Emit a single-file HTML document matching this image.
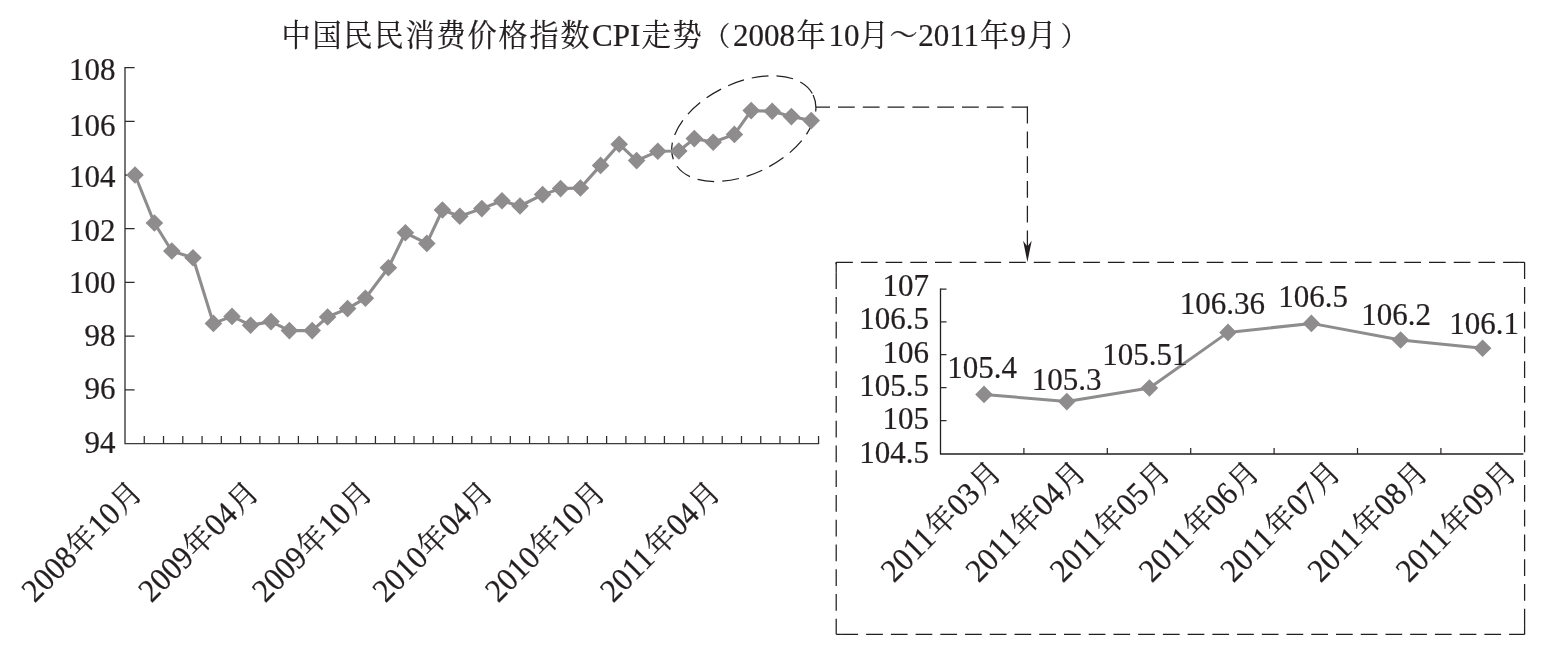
<!DOCTYPE html>
<html lang="zh"><head><meta charset="utf-8"><title>CPI</title>
<style>
html,body{margin:0;padding:0;background:#fff;}
body{width:1550px;height:663px;overflow:hidden;font-family:"Liberation Serif","Noto Serif CJK SC",serif;}
svg{display:block;will-change:transform;}
text{font-family:"Liberation Serif","Noto Serif CJK SC",serif;fill:#231f20;stroke:#231f20;stroke-width:0.22px;}
</style></head><body>
<svg width="1550" height="663" viewBox="0 0 1550 663" role="img" aria-label="中国民民消费价格指数CPI走势（2008年10月～2011年9月）">
<rect width="1550" height="663" fill="#fff"/>
<g id="title" aria-label="中国民民消费价格指数CPI走势（2008年10月～2011年9月）">
<text transform="translate(281.43 46.20) scale(1.0 1.048)" font-size="29.14">中</text>
<text transform="translate(312.43 46.20) scale(1.0 1.048)" font-size="29.14">国</text>
<text transform="translate(343.43 46.20) scale(1.0 1.048)" font-size="29.14">民</text>
<text transform="translate(374.43 46.20) scale(1.0 1.048)" font-size="29.14">民</text>
<text transform="translate(405.43 46.20) scale(1.0 1.048)" font-size="29.14">消</text>
<text transform="translate(436.43 46.20) scale(1.0 1.048)" font-size="29.14">费</text>
<text transform="translate(467.43 46.20) scale(1.0 1.048)" font-size="29.14">价</text>
<text transform="translate(498.43 46.20) scale(1.0 1.048)" font-size="29.14">格</text>
<text transform="translate(529.43 46.20) scale(1.0 1.048)" font-size="29.14">指</text>
<text transform="translate(560.43 46.20) scale(1.0 1.048)" font-size="29.14">数</text>
<text transform="translate(592.00 45.60) scale(1.0 1.05)" font-size="31">CPI</text>
<text transform="translate(641.43 46.20) scale(1.0 1.048)" font-size="29.14">走</text>
<text transform="translate(672.43 46.20) scale(1.0 1.048)" font-size="29.14">势</text>
<text transform="translate(703.55 44.55)" font-size="26.66">（</text>
<text transform="translate(733.00 45.60) scale(1.0 1.05)" font-size="31">2008</text>
<text transform="translate(796.43 46.20) scale(1.0 1.048)" font-size="29.14">年</text>
<text transform="translate(828.40 45.60) scale(1.0 1.05)" font-size="31">10</text>
<text transform="translate(859.43 46.20) scale(1.0 1.048)" font-size="29.14">月</text>
<text transform="translate(889.39 45.31) scale(1.0 1.044)" font-size="28.21">～</text>
<text transform="translate(918.20 45.60) scale(1.0 1.05)" font-size="31">2011</text>
<text transform="translate(979.93 46.20) scale(1.0 1.048)" font-size="29.14">年</text>
<text transform="translate(1010.50 45.60) scale(1.0 1.05)" font-size="31">9</text>
<text transform="translate(1027.33 46.20) scale(1.0 1.048)" font-size="29.14">月</text>
<text transform="translate(1060.79 44.55)" font-size="26.66">）</text>
</g>
<g id="main" stroke="#3e3b3c" stroke-width="1.4" fill="none">
<path d="M125.0 67.0V443.6H819.2"/>
<path d="M125.0 389.89h9.6M125.0 336.17h9.6M125.0 282.46h9.6M125.0 228.74h9.6M125.0 175.03h9.6M125.0 121.31h9.6M125.0 67.60h9.6M144.26 443.6v-7.6M163.53 443.6v-7.6M182.80 443.6v-7.6M202.06 443.6v-7.6M221.32 443.6v-7.6M240.59 443.6v-7.6M259.86 443.6v-7.6M279.12 443.6v-7.6M298.38 443.6v-7.6M317.65 443.6v-7.6M336.92 443.6v-7.6M356.18 443.6v-7.6M375.44 443.6v-7.6M394.71 443.6v-7.6M413.98 443.6v-7.6M433.24 443.6v-7.6M452.50 443.6v-7.6M471.77 443.6v-7.6M491.04 443.6v-7.6M510.30 443.6v-7.6M529.57 443.6v-7.6M548.83 443.6v-7.6M568.10 443.6v-7.6M587.36 443.6v-7.6M606.62 443.6v-7.6M625.89 443.6v-7.6M645.15 443.6v-7.6M664.42 443.6v-7.6M683.69 443.6v-7.6M702.95 443.6v-7.6M722.22 443.6v-7.6M741.48 443.6v-7.6M760.75 443.6v-7.6M780.01 443.6v-7.6M799.27 443.6v-7.6M818.54 443.6v-7.6" stroke="#2e2b2c" stroke-width="1.25"/>
</g>
<g id="ylab" text-anchor="end" font-size="31">
<text transform="translate(115.40 80.40) scale(1.0 1.05)" font-size="31" text-anchor="end">108</text>
<text transform="translate(115.40 136.40) scale(1.0 1.05)" font-size="31" text-anchor="end">106</text>
<text transform="translate(115.40 187.00) scale(1.0 1.05)" font-size="31" text-anchor="end">104</text>
<text transform="translate(115.40 240.60) scale(1.0 1.05)" font-size="31" text-anchor="end">102</text>
<text transform="translate(115.40 292.80) scale(1.0 1.05)" font-size="31" text-anchor="end">100</text>
<text transform="translate(115.40 345.60) scale(1.0 1.05)" font-size="31" text-anchor="end">98</text>
<text transform="translate(115.40 399.00) scale(1.0 1.05)" font-size="31" text-anchor="end">96</text>
<text transform="translate(115.40 452.80) scale(1.0 1.05)" font-size="31" text-anchor="end">94</text>
</g>
<g id="xlab1">
<g aria-label="2008年10月" transform="translate(144.40 493.80) rotate(-45)">
<text transform="translate(-155.00 0.00) scale(1.0 1.05)" font-size="31">2008</text>
<text transform="translate(-92.07 0.00) scale(1.0 1.048)" font-size="29.14">年</text>
<text transform="translate(-62.00 0.00) scale(1.0 1.05)" font-size="31">10</text>
<text transform="translate(-30.07 0.00) scale(1.0 1.048)" font-size="29.14">月</text>
</g>
<g aria-label="2009年04月" transform="translate(261.20 493.80) rotate(-45)">
<text transform="translate(-155.00 0.00) scale(1.0 1.05)" font-size="31">2009</text>
<text transform="translate(-92.07 0.00) scale(1.0 1.048)" font-size="29.14">年</text>
<text transform="translate(-62.00 0.00) scale(1.0 1.05)" font-size="31">04</text>
<text transform="translate(-30.07 0.00) scale(1.0 1.048)" font-size="29.14">月</text>
</g>
<g aria-label="2009年10月" transform="translate(374.80 493.80) rotate(-45)">
<text transform="translate(-155.00 0.00) scale(1.0 1.05)" font-size="31">2009</text>
<text transform="translate(-92.07 0.00) scale(1.0 1.048)" font-size="29.14">年</text>
<text transform="translate(-62.00 0.00) scale(1.0 1.05)" font-size="31">10</text>
<text transform="translate(-30.07 0.00) scale(1.0 1.048)" font-size="29.14">月</text>
</g>
<g aria-label="2010年04月" transform="translate(495.40 493.80) rotate(-45)">
<text transform="translate(-155.00 0.00) scale(1.0 1.05)" font-size="31">2010</text>
<text transform="translate(-92.07 0.00) scale(1.0 1.048)" font-size="29.14">年</text>
<text transform="translate(-62.00 0.00) scale(1.0 1.05)" font-size="31">04</text>
<text transform="translate(-30.07 0.00) scale(1.0 1.048)" font-size="29.14">月</text>
</g>
<g aria-label="2010年10月" transform="translate(607.80 493.80) rotate(-45)">
<text transform="translate(-155.00 0.00) scale(1.0 1.05)" font-size="31">2010</text>
<text transform="translate(-92.07 0.00) scale(1.0 1.048)" font-size="29.14">年</text>
<text transform="translate(-62.00 0.00) scale(1.0 1.05)" font-size="31">10</text>
<text transform="translate(-30.07 0.00) scale(1.0 1.048)" font-size="29.14">月</text>
</g>
<g aria-label="2011年04月" transform="translate(722.80 493.80) rotate(-45)">
<text transform="translate(-155.00 0.00) scale(1.0 1.05)" font-size="31">2011</text>
<text transform="translate(-92.07 0.00) scale(1.0 1.048)" font-size="29.14">年</text>
<text transform="translate(-62.00 0.00) scale(1.0 1.05)" font-size="31">04</text>
<text transform="translate(-30.07 0.00) scale(1.0 1.048)" font-size="29.14">月</text>
</g>
</g>
<g id="callout" fill="none" stroke="#231f20" stroke-width="1.25">
<ellipse cx="743.8" cy="128.6" rx="77" ry="45.5" transform="rotate(-25.8 743.8 128.6)" stroke-dasharray="16.8 8"/>
<path d="M816 107.2H1027.5" stroke-dasharray="16.8 8" stroke-dashoffset="2.8"/>
<path d="M1027.4 106.6V247.5" stroke-dasharray="16.8 8"/>
<path d="M1027.4 262l-4.3 -21.2l4.3 5.6l4.3 -5.6z" fill="#231f20" stroke="none"/>
<path d="M836.2 262.3H1524.6" stroke-dasharray="16.7 8"/>
<path d="M1524.6 262.3V634.3" stroke-dasharray="16.75 8"/>
<path d="M836.2 634.3H1524.6" stroke-dasharray="16.73 8" stroke-dashoffset="19.53"/>
<path d="M836.2 262.3V634.3" stroke-dasharray="16.75 8" stroke-dashoffset="14.85"/>
<path d="M836.2 262.3V272.3M1519.6 262.3H1524.6M836.2 634.3h5.4M1524.6 634.3v-9"/>
</g>
<g id="series1">
<polyline fill="none" stroke="#8e8c8d" stroke-width="3.1" stroke-linejoin="round" points="135.0,175.0 154.4,223.0 171.8,251.0 193.0,257.8 213.4,323.4 232.0,316.4 250.6,325.2 271.0,321.6 289.4,330.6 312.2,330.6 327.6,317.0 347.6,308.6 365.4,298.2 388.4,267.8 405.4,232.8 426.8,243.4 442.4,210.0 459.8,216.2 481.8,208.6 502.0,200.8 520.0,206.0 542.6,194.6 560.6,188.6 580.4,188.0 600.6,165.4 619.2,144.2 636.6,160.6 657.8,151.3 678.8,151.0 694.3,138.6 713.2,142.2 734.4,134.4 751.2,110.6 772.2,111.2 791.4,116.6 811.2,120.6"/>
<path fill="#8e8c8d" d="M135.0 166.2l8.8 8.8l-8.8 8.8l-8.8 -8.8zM154.4 214.2l8.8 8.8l-8.8 8.8l-8.8 -8.8zM171.8 242.2l8.8 8.8l-8.8 8.8l-8.8 -8.8zM193.0 249.0l8.8 8.8l-8.8 8.8l-8.8 -8.8zM213.4 314.6l8.8 8.8l-8.8 8.8l-8.8 -8.8zM232.0 307.6l8.8 8.8l-8.8 8.8l-8.8 -8.8zM250.6 316.4l8.8 8.8l-8.8 8.8l-8.8 -8.8zM271.0 312.8l8.8 8.8l-8.8 8.8l-8.8 -8.8zM289.4 321.8l8.8 8.8l-8.8 8.8l-8.8 -8.8zM312.2 321.8l8.8 8.8l-8.8 8.8l-8.8 -8.8zM327.6 308.2l8.8 8.8l-8.8 8.8l-8.8 -8.8zM347.6 299.8l8.8 8.8l-8.8 8.8l-8.8 -8.8zM365.4 289.4l8.8 8.8l-8.8 8.8l-8.8 -8.8zM388.4 259.0l8.8 8.8l-8.8 8.8l-8.8 -8.8zM405.4 224.0l8.8 8.8l-8.8 8.8l-8.8 -8.8zM426.8 234.6l8.8 8.8l-8.8 8.8l-8.8 -8.8zM442.4 201.2l8.8 8.8l-8.8 8.8l-8.8 -8.8zM459.8 207.4l8.8 8.8l-8.8 8.8l-8.8 -8.8zM481.8 199.8l8.8 8.8l-8.8 8.8l-8.8 -8.8zM502.0 192.0l8.8 8.8l-8.8 8.8l-8.8 -8.8zM520.0 197.2l8.8 8.8l-8.8 8.8l-8.8 -8.8zM542.6 185.8l8.8 8.8l-8.8 8.8l-8.8 -8.8zM560.6 179.8l8.8 8.8l-8.8 8.8l-8.8 -8.8zM580.4 179.2l8.8 8.8l-8.8 8.8l-8.8 -8.8zM600.6 156.6l8.8 8.8l-8.8 8.8l-8.8 -8.8zM619.2 135.4l8.8 8.8l-8.8 8.8l-8.8 -8.8zM636.6 151.8l8.8 8.8l-8.8 8.8l-8.8 -8.8zM657.8 142.5l8.8 8.8l-8.8 8.8l-8.8 -8.8zM678.8 142.2l8.8 8.8l-8.8 8.8l-8.8 -8.8zM694.3 129.8l8.8 8.8l-8.8 8.8l-8.8 -8.8zM713.2 133.4l8.8 8.8l-8.8 8.8l-8.8 -8.8zM734.4 125.6l8.8 8.8l-8.8 8.8l-8.8 -8.8zM751.2 101.8l8.8 8.8l-8.8 8.8l-8.8 -8.8zM772.2 102.4l8.8 8.8l-8.8 8.8l-8.8 -8.8zM791.4 107.8l8.8 8.8l-8.8 8.8l-8.8 -8.8zM811.2 111.8l8.8 8.8l-8.8 8.8l-8.8 -8.8z"/>
</g>
<g id="inset" stroke="#231f20" stroke-width="1.3" fill="none">
<path d="M940.5 288.59999999999997V454.0H1523.3999999999999"/>
<path d="M940.5 289.2h6M940.5 321.8h6M940.5 354.7h6M940.5 387.7h6M940.5 420.7h6M1023.90 454.0v-6M1107.30 454.0v-6M1190.70 454.0v-6M1274.10 454.0v-6M1357.50 454.0v-6M1440.90 454.0v-6" stroke="#2e2b2c" stroke-width="1.25"/>
</g>
<g id="ylab2" text-anchor="end" font-size="31">
<text transform="translate(929.00 295.90) scale(1.0 1.05)" font-size="31" text-anchor="end">107</text>
<text transform="translate(929.00 329.30) scale(1.0 1.05)" font-size="31" text-anchor="end">106.5</text>
<text transform="translate(929.00 362.50) scale(1.0 1.05)" font-size="31" text-anchor="end">106</text>
<text transform="translate(929.00 395.90) scale(1.0 1.05)" font-size="31" text-anchor="end">105.5</text>
<text transform="translate(929.00 429.30) scale(1.0 1.05)" font-size="31" text-anchor="end">105</text>
<text transform="translate(929.00 462.90) scale(1.0 1.05)" font-size="31" text-anchor="end">104.5</text>
</g>
<g id="series2">
<polyline fill="none" stroke="#8e8c8d" stroke-width="3.0" stroke-linejoin="round" points="984.0,394.4 1066.8,401.6 1149.4,388.0 1228.0,332.4 1311.4,323.4 1400.6,340.0 1482.6,348.2"/>
<path fill="#8e8c8d" d="M984.0 385.6l8.8 8.8l-8.8 8.8l-8.8 -8.8zM1066.8 392.8l8.8 8.8l-8.8 8.8l-8.8 -8.8zM1149.4 379.2l8.8 8.8l-8.8 8.8l-8.8 -8.8zM1228.0 323.6l8.8 8.8l-8.8 8.8l-8.8 -8.8zM1311.4 314.6l8.8 8.8l-8.8 8.8l-8.8 -8.8zM1400.6 331.2l8.8 8.8l-8.8 8.8l-8.8 -8.8zM1482.6 339.4l8.8 8.8l-8.8 8.8l-8.8 -8.8z"/>
</g>
<g id="dlab" font-size="31">
<text transform="translate(947.27 378.00) scale(1.0 1.05)" font-size="31">105.4</text>
<text transform="translate(1031.77 389.50) scale(1.0 1.05)" font-size="31">105.3</text>
<text transform="translate(1102.27 364.60) scale(1.0 1.05)" font-size="31">105.51</text>
<text transform="translate(1179.67 314.00) scale(1.0 1.05)" font-size="31">106.36</text>
<text transform="translate(1278.27 306.60) scale(1.0 1.05)" font-size="31">106.5</text>
<text transform="translate(1361.27 324.60) scale(1.0 1.05)" font-size="31">106.2</text>
<text transform="translate(1449.27 334.40) scale(1.0 1.05)" font-size="31">106.1</text>
</g>
<g id="xlab2">
<g aria-label="2011年03月" transform="translate(1003.70 473.80) rotate(-45)">
<text transform="translate(-155.00 0.00) scale(1.0 1.05)" font-size="31">2011</text>
<text transform="translate(-92.07 0.00) scale(1.0 1.048)" font-size="29.14">年</text>
<text transform="translate(-62.00 0.00) scale(1.0 1.05)" font-size="31">03</text>
<text transform="translate(-30.07 0.00) scale(1.0 1.048)" font-size="29.14">月</text>
</g>
<g aria-label="2011年04月" transform="translate(1088.30 473.80) rotate(-45)">
<text transform="translate(-155.00 0.00) scale(1.0 1.05)" font-size="31">2011</text>
<text transform="translate(-92.07 0.00) scale(1.0 1.048)" font-size="29.14">年</text>
<text transform="translate(-62.00 0.00) scale(1.0 1.05)" font-size="31">04</text>
<text transform="translate(-30.07 0.00) scale(1.0 1.048)" font-size="29.14">月</text>
</g>
<g aria-label="2011年05月" transform="translate(1172.70 473.80) rotate(-45)">
<text transform="translate(-155.00 0.00) scale(1.0 1.05)" font-size="31">2011</text>
<text transform="translate(-92.07 0.00) scale(1.0 1.048)" font-size="29.14">年</text>
<text transform="translate(-62.00 0.00) scale(1.0 1.05)" font-size="31">05</text>
<text transform="translate(-30.07 0.00) scale(1.0 1.048)" font-size="29.14">月</text>
</g>
<g aria-label="2011年06月" transform="translate(1261.70 473.80) rotate(-45)">
<text transform="translate(-155.00 0.00) scale(1.0 1.05)" font-size="31">2011</text>
<text transform="translate(-92.07 0.00) scale(1.0 1.048)" font-size="29.14">年</text>
<text transform="translate(-62.00 0.00) scale(1.0 1.05)" font-size="31">06</text>
<text transform="translate(-30.07 0.00) scale(1.0 1.048)" font-size="29.14">月</text>
</g>
<g aria-label="2011年07月" transform="translate(1343.10 473.80) rotate(-45)">
<text transform="translate(-155.00 0.00) scale(1.0 1.05)" font-size="31">2011</text>
<text transform="translate(-92.07 0.00) scale(1.0 1.048)" font-size="29.14">年</text>
<text transform="translate(-62.00 0.00) scale(1.0 1.05)" font-size="31">07</text>
<text transform="translate(-30.07 0.00) scale(1.0 1.048)" font-size="29.14">月</text>
</g>
<g aria-label="2011年08月" transform="translate(1430.30 473.80) rotate(-45)">
<text transform="translate(-155.00 0.00) scale(1.0 1.05)" font-size="31">2011</text>
<text transform="translate(-92.07 0.00) scale(1.0 1.048)" font-size="29.14">年</text>
<text transform="translate(-62.00 0.00) scale(1.0 1.05)" font-size="31">08</text>
<text transform="translate(-30.07 0.00) scale(1.0 1.048)" font-size="29.14">月</text>
</g>
<g aria-label="2011年09月" transform="translate(1518.70 473.80) rotate(-45)">
<text transform="translate(-155.00 0.00) scale(1.0 1.05)" font-size="31">2011</text>
<text transform="translate(-92.07 0.00) scale(1.0 1.048)" font-size="29.14">年</text>
<text transform="translate(-62.00 0.00) scale(1.0 1.05)" font-size="31">09</text>
<text transform="translate(-30.07 0.00) scale(1.0 1.048)" font-size="29.14">月</text>
</g>
</g>
</svg></body></html>
